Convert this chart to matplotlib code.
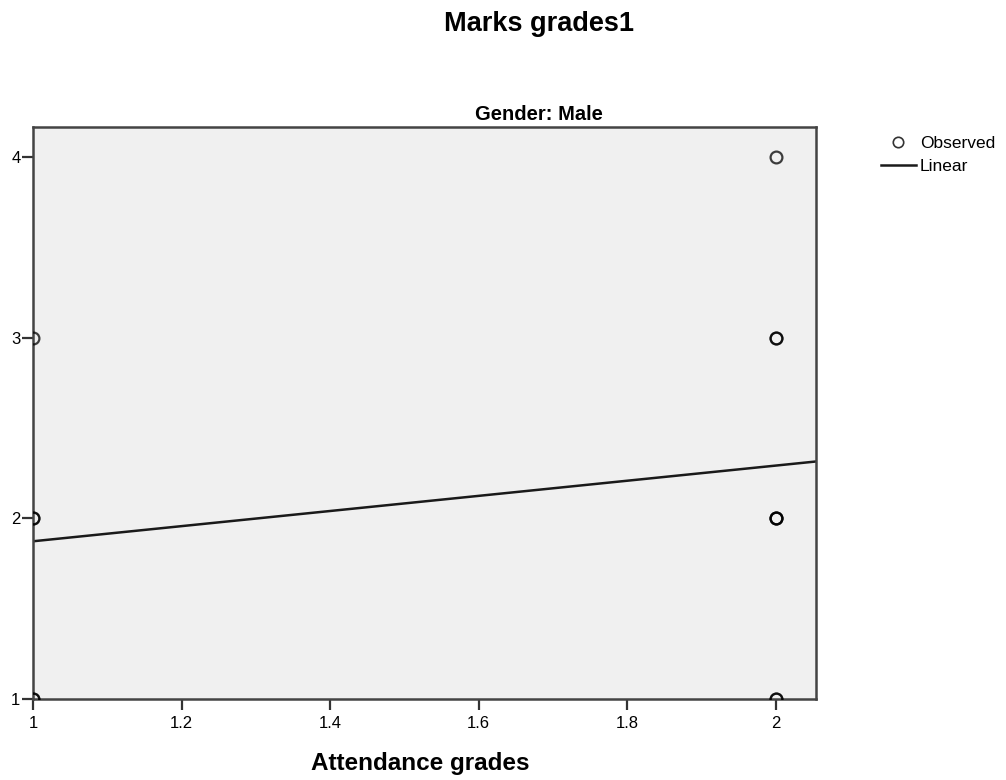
import matplotlib
matplotlib.use("Agg")
import matplotlib.pyplot as plt
from matplotlib.lines import Line2D

plt.rcParams['font.family'] = ['Liberation Sans', 'DejaVu Sans']

# Observed data (duplicates reproduce the darker overlapping markers)
attendance = [1, 1, 1, 1, 1, 2, 2, 2, 2, 2, 2, 2, 2]
marks = [1, 2, 2, 3, 1, 1, 1, 2, 2, 2, 3, 3, 4]
# Linear fit
fit_intercept = 1.454
fit_slope = 0.419

x_ticks = [1, 1.2, 1.4, 1.6, 1.8, 2]
x_ticklabels = ["1", "1.2", "1.4", "1.6", "1.8", "2"]
y_ticks = [1, 2, 3, 4]

fig = plt.figure(figsize=(10.06, 7.80), dpi=100)
ax = fig.add_axes([33/1006, 1-699/780, (816-33)/1006, (699-127)/780])
ax.set_facecolor('#f0f0f0')

xmin, xmax = 1.0, 2.054
ax.set_xlim(xmin, xmax)
ax.set_ylim(1.0, 4.166)

ax.plot(attendance, marks, linestyle='none', marker='o', markersize=8.5,
        markerfacecolor='none', markeredgecolor='black', markeredgewidth=1.6,
        alpha=0.75, clip_on=True, zorder=3)
xs = [xmin, xmax]
ax.plot(xs, [fit_intercept + fit_slope * x for x in xs], color='#1a1a1a',
        linewidth=1.8, zorder=2)

ax.set_xticks(x_ticks)
ax.set_xticklabels(x_ticklabels)
ax.set_yticks(y_ticks)
ax.tick_params(axis='both', direction='out', length=8, width=1.6,
               color='#333333', labelsize=12)
ax.tick_params(axis='x', pad=4)
ax.tick_params(axis='y', pad=1)
for s in ax.spines.values():
    s.set_color('#444444')
    s.set_linewidth(1.8)

fig.text(539/1006, 1-31/780, "Marks grades1", ha='center', va='baseline',
         fontsize=19.5, fontweight='bold')
fig.text(539/1006, 1-120/780, "Gender: Male", ha='center', va='baseline',
         fontsize=14.5, fontweight='bold')
fig.text(420/1006, 1-770/780, "Attendance grades", ha='center', va='baseline',
         fontsize=17.5, fontweight='bold')

handles = [Line2D([], [], linestyle='none', marker='o', markersize=7.5,
                  markerfacecolor='none', markeredgecolor='#333333',
                  markeredgewidth=1.2),
           Line2D([], [], color='#1a1a1a', linewidth=1.8)]
fig.legend(handles, ["Observed", "Linear"], loc='upper left',
           bbox_to_anchor=(881/1006, 1-136/780), frameon=False,
           fontsize=12.5, handlelength=2.0, handletextpad=0.25,
           labelspacing=0.45, borderpad=0, borderaxespad=0)

fig.savefig("out.png", dpi=100)
